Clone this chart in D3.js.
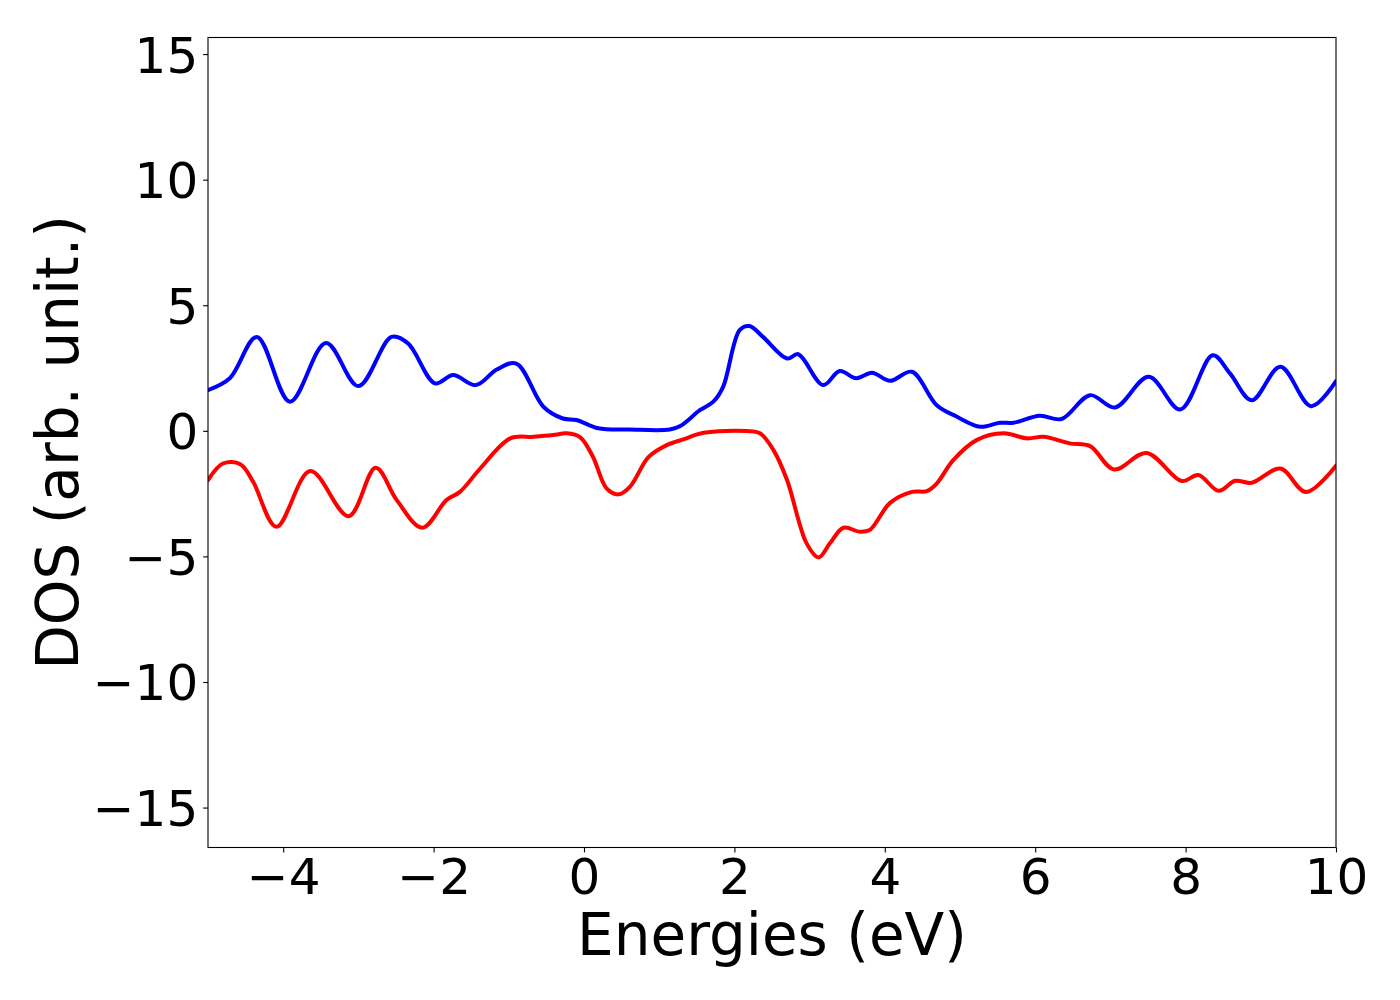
<!DOCTYPE html>
<html>
<head>
<meta charset="utf-8">
<script src="https://cdn.jsdelivr.net/npm/d3@7"></script>
<style>
	body { margin: 0; background: #fff; }
	.axis text { font-family: "DejaVu Sans", sans-serif; font-size: 50px; fill: #000; }
	.axis path, .axis line { stroke: #000; stroke-width: 1.1px; }
	.label { font-family: "DejaVu Sans", sans-serif; font-size: 58px; fill: #000; }
	.dos { fill: none; stroke-width: 4px; stroke-linejoin: round; stroke-linecap: round; }
</style>
</head>
<body>
<div id="chart"></div>
<script>
//Data

	//Spin up DOS (blue)
	var upEnergy = [-5, -4.71, -4.35, -3.91, -3.43, -3.0, -2.56, -2.34, -1.98, -1.74, -1.44, -1.16, -0.90, -0.54, -0.28, -0.10,
		0.19, 0.61, 1.14, 1.28, 1.54, 1.72, 1.85, 2.07, 2.20, 2.38, 2.70, 2.85, 3.18, 3.40, 3.62, 3.83, 4.07, 4.36, 4.69, 4.96,
		5.27, 5.53, 5.71, 6.06, 6.35, 6.73, 7.06, 7.51, 7.93, 8.36, 8.59, 8.88, 9.26, 9.67, 10];
	var upDos = [1.62, 2.09, 3.74, 1.16, 3.5, 1.78, 3.74, 3.48, 1.89, 2.22, 1.82, 2.44, 2.68, 0.96, 0.49, 0.43,
		0.10, 0.05, 0.05, 0.19, 0.82, 1.16, 1.75, 4.01, 4.17, 3.74, 2.88, 3.05, 1.82, 2.38, 2.09, 2.31, 1.99, 2.35, 1.02, 0.56,
		0.16, 0.32, 0.32, 0.60, 0.47, 1.42, 0.93, 2.15, 0.85, 3.01, 2.29, 1.22, 2.55, 0.98, 1.98];

	//Spin down DOS (red)
	var downEnergy = [-5, -4.80, -4.57, -4.40, -4.09, -3.64, -3.13, -2.77, -2.49, -2.15, -1.83, -1.65, -1.38, -0.98, -0.67, -0.41,
		-0.23, -0.05, 0.12, 0.30, 0.46, 0.61, 0.86, 1.10, 1.32, 1.59, 2.16, 2.34, 2.52, 2.70, 2.96, 3.12, 3.27, 3.45, 3.67, 3.80,
		4.07, 4.36, 4.56, 4.69, 4.91, 5.22, 5.58, 5.89, 6.11, 6.46, 6.73, 7.05, 7.48, 7.95, 8.17, 8.44, 8.66, 8.88, 9.26, 9.60, 10];
	var downDos = [-1.96, -1.30, -1.33, -2.03, -3.82, -1.60, -3.40, -1.47, -2.76, -3.86, -2.76, -2.43, -1.50, -0.30, -0.24, -0.17,
		-0.10, -0.26, -1.04, -2.29, -2.53, -2.23, -1.04, -0.57, -0.34, -0.08, -0.01, -0.10, -0.77, -1.96, -4.48, -5.04, -4.48, -3.86, -4.02, -3.95,
		-2.87, -2.43, -2.40, -2.10, -1.17, -0.37, -0.10, -0.30, -0.24, -0.50, -0.61, -1.54, -0.88, -2.00, -1.76, -2.39, -1.99, -2.07, -1.50, -2.44, -1.39];

	//Axis ticks and limits
	var xTicks = [-4, -2, 0, 2, 4, 6, 8, 10];
	var yTicks = [-15, -10, -5, 0, 5, 10, 15];
	var xLimits = [-5, 10];
	var yLimits = [-16.59, 15.66];

//Canvas
	var margin = {top: 37.5, right: 64, bottom: 152.5, left: 208},
		w = 1400 - margin.left - margin.right,
		h = 1000 - margin.top - margin.bottom;

	var xScale = d3.scaleLinear().domain(xLimits).range([0, w]);
	var yScale = d3.scaleLinear().domain(yLimits).range([h, 0]);

	var line = d3.line()
		.curve(d3.curveCatmullRom.alpha(0.5))
		.x(function(d) { return xScale(d[0]); })
		.y(function(d) { return yScale(d[1]); });

	var svg = d3.select("#chart")
		.append("svg")
		.attr("width", 1400)
		.attr("height", 1000)
		.append("g")
			.attr("transform", "translate(" + margin.left + "," + margin.top + ")");

	svg.append("clipPath")
		.attr("id", "plot-clip")
		.append("rect")
			.attr("width", w)
			.attr("height", h);

//Lines
	var upData = d3.zip(upEnergy, upDos);
	var downData = d3.zip(downEnergy, downDos);

	svg.append("path")
		.datum(upData)
		.attr("class", "dos")
		.attr("clip-path", "url(#plot-clip)")
		.attr("stroke", "#0000ff")
		.attr("d", line);

	svg.append("path")
		.datum(downData)
		.attr("class", "dos")
		.attr("clip-path", "url(#plot-clip)")
		.attr("stroke", "#ff0000")
		.attr("d", line);

//Axes
	var xAxis = d3.axisBottom(xScale).tickValues(xTicks).tickSize(4.9).tickPadding(4.9).tickSizeOuter(0);
	var yAxis = d3.axisLeft(yScale).tickValues(yTicks).tickSize(4.9).tickPadding(4.9).tickSizeOuter(0);

	svg.append("g")
		.attr("class", "axis x-axis")
		.attr("transform", "translate(0," + h + ")")
		.call(xAxis)
		.call(function(g) { g.select(".domain").remove(); });

	svg.append("g")
		.attr("class", "axis y-axis")
		.call(yAxis)
		.call(function(g) { g.select(".domain").remove(); });

	d3.selectAll(".y-axis text").attr("dy", "0.36em");
	d3.selectAll(".x-axis text").attr("dy", "0.74em");

	//Frame
	svg.append("rect")
		.attr("width", w)
		.attr("height", h)
		.attr("fill", "none")
		.attr("stroke", "#000")
		.attr("stroke-width", 1.1);

//Labels
	svg.append("text")
		.attr("class", "label")
		.attr("text-anchor", "middle")
		.attr("x", w / 2)
		.attr("y", 955 - margin.top)
		.text("Energies (eV)");

	svg.append("text")
		.attr("class", "label")
		.attr("text-anchor", "middle")
		.attr("transform", "translate(" + (78 - margin.left) + "," + (h / 2) + ") rotate(-90)")
		.text("DOS (arb. unit.)");
</script>
</body>
</html>
